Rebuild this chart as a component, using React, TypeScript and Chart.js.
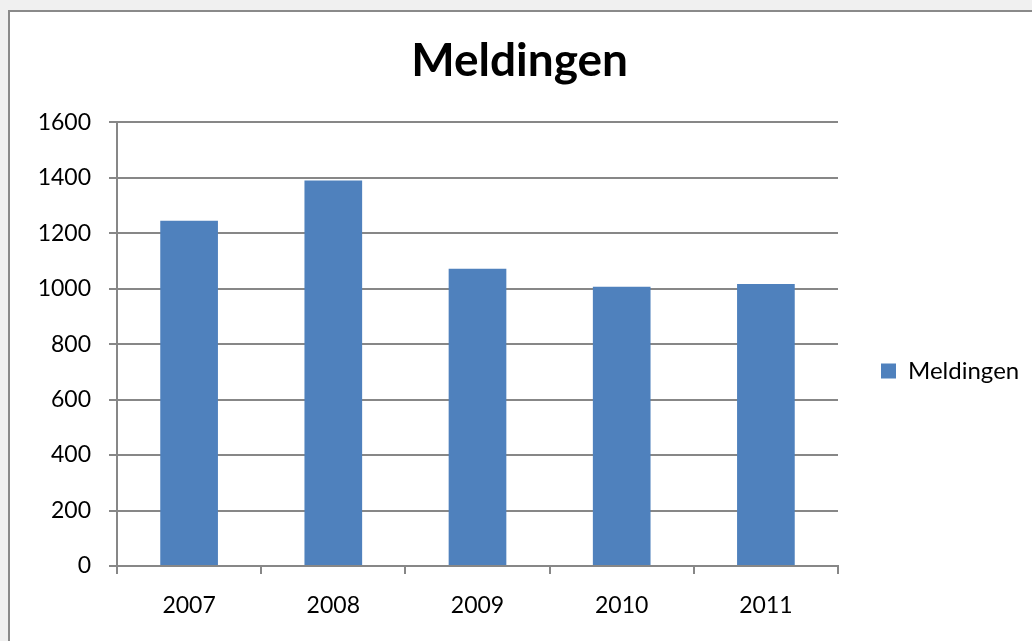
import React, { useEffect, useRef } from "react";
import { Chart, registerables } from "chart.js";

Chart.register(...registerables);

const categories = ["2007", "2008", "2009", "2010", "2011"];
const seriesLabel = "Meldingen";
const seriesValues = [1245, 1390, 1072, 1007, 1017];
const chartTitle = "Meldingen";
const yMin = 0;
const yMax = 1600;
const yStep = 200;

const FONT = "Lato";
const GRID = "#878787";
const BAR = "#4F81BD";

const CW = 1022;
const CH = 629;
const TICK_SIZE = 23;
const LEGEND_SIZE = 24;

export default function App() {
  const ref = useRef<HTMLCanvasElement | null>(null);

  useEffect(() => {
    document.documentElement.style.overflow = "hidden";
    document.body.style.margin = "0";
    document.body.style.overflow = "hidden";
    document.body.style.background = "#f0f0f0";
    const canvas = ref.current;
    if (!canvas) return;
    const ctx = canvas.getContext("2d")!;
    ctx.font = `${LEGEND_SIZE}px ${FONT}`;
    const textW = ctx.measureText(seriesLabel).width;
    const legendPad = 43;
    const legendW = legendPad + 15 + LEGEND_SIZE / 2 + textW + 10;
    const plotRight = 828;
    const padRight = CW - plotRight - legendW;

    const chart = new Chart(canvas, {
      type: "bar",
      data: {
        labels: categories,
        datasets: [
          {
            label: seriesLabel,
            data: seriesValues,
            backgroundColor: BAR,
            borderWidth: 0,
            barPercentage: 0.4,
            categoryPercentage: 1,
          },
        ],
      },
      options: {
        responsive: false,
        animation: false,
        devicePixelRatio: 1,
        layout: { padding: { top: 0, left: 0, bottom: 0, right: padRight } },
        plugins: {
          title: {
            display: true,
            text: chartTitle,
            color: "#000",
            font: { family: FONT, size: 46, weight: "bold", lineHeight: 1.2 },
            padding: { top: 22, bottom: 33 },
          },
          legend: {
            display: true,
            position: "right",
            fullSize: false,
            title: {
              display: true,
              text: " ",
              font: { family: FONT, size: 20, lineHeight: 1.2 },
              padding: 15,
            },
            labels: {
              boxWidth: 15,
              boxHeight: 15,
              padding: legendPad,
              color: "#000",
              font: { family: FONT, size: LEGEND_SIZE },
            },
          },
          tooltip: { enabled: false },
        },
        scales: {
          x: {
            grid: {
              display: true,
              drawOnChartArea: false,
              drawTicks: true,
              tickLength: 8,
              color: GRID,
              lineWidth: 2,
              offset: true,
            },
            border: { display: true, color: GRID, width: 2 },
            ticks: {
              color: "#000",
              font: { family: FONT, size: TICK_SIZE },
              padding: 18,
              maxRotation: 0,
            },
            afterFit: (s: any) => {
              s.height = 75;
            },
          },
          y: {
            min: yMin,
            max: yMax,
            grid: {
              color: GRID,
              lineWidth: 2,
              drawTicks: true,
              tickLength: 8,
            },
            border: { display: true, color: GRID, width: 2 },
            ticks: {
              stepSize: yStep,
              color: "#000",
              font: { family: FONT, size: TICK_SIZE },
              padding: 18,
              callback: (v: any) => String(v),
            },
            afterFit: (s: any) => {
              s.width = 107;
            },
          },
        },
      },
    });
    return () => chart.destroy();
  }, []);

  return (
    <div
      style={{
        position: "absolute",
        left: 8,
        top: 10,
        width: 1100,
        height: 700,
        borderLeft: "2px solid #8a8a8a",
        borderTop: "2px solid #8a8a8a",
        background: "#ffffff",
      }}
    >
      <canvas ref={ref} width={CW} height={CH} style={{ display: "block", width: CW, height: CH }} />
    </div>
  );
}
